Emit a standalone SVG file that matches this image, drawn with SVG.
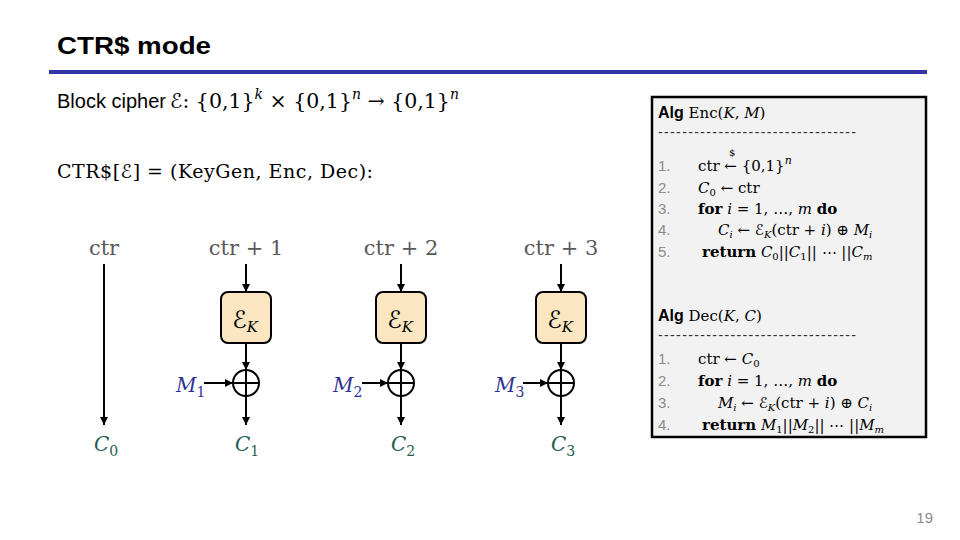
<svg xmlns="http://www.w3.org/2000/svg" width="960" height="540" viewBox="0 0 960 540">
<defs>
<marker id="ah" viewBox="0 0 10 10" refX="10" refY="5" markerWidth="4" markerHeight="4" orient="auto" markerUnits="strokeWidth">
<path d="M0,0 L10,5 L0,10 z" fill="#000"/>
</marker>
<style>
.t{font-family:"Liberation Sans",Arial,sans-serif}
.s{font-family:"DejaVu Serif","Liberation Serif",serif}
.e{font-family:"DejaVu Sans","DejaVu Serif",serif;font-style:normal}
.i{font-style:italic}
.b{font-weight:bold}
.g{fill:#595959}
.m{fill:#2e3192}
.c{fill:#1f5e50}
.n{fill:#8c8c8c;font-family:"Liberation Sans",Arial,sans-serif}
.box{fill:#fce6c1;stroke:#000;stroke-width:2}
.ln{stroke:#000;stroke-width:2;fill:none}
</style>
</defs>
<rect width="960" height="540" fill="#fff"/>
<text x="57" y="54" class="t b" font-size="24" textLength="154" lengthAdjust="spacingAndGlyphs">CTR$ mode</text>
<rect x="49" y="70" width="878" height="4" fill="#3333a8"/>

<text x="57" y="108" class="t" font-size="20">Block cipher</text>
<text x="170" y="108" class="s" font-size="20.5"><tspan class="e">ℰ</tspan>: {0,1}<tspan class="i" font-size="14" dy="-9">k</tspan><tspan dy="9"> × {0,1}</tspan><tspan class="i" font-size="14" dy="-9">n</tspan><tspan dy="9"> → {0,1}</tspan><tspan class="i" font-size="14" dy="-9">n</tspan></text>

<text x="57" y="178" class="s" font-size="19" textLength="316">CTR$[<tspan class="e">ℰ</tspan>] = (KeyGen, Enc, Dec):</text>

<g id="connectors">
<line x1="104" y1="264" x2="104" y2="425" class="ln" marker-end="url(#ah)"/>
<line x1="246" y1="264" x2="246" y2="292" class="ln" marker-end="url(#ah)"/>
<line x1="246" y1="343" x2="246" y2="370" class="ln" marker-end="url(#ah)"/>
<line x1="246" y1="396" x2="246" y2="425" class="ln" marker-end="url(#ah)"/>
<line x1="204" y1="383" x2="233" y2="383" class="ln" marker-end="url(#ah)"/>
<line x1="401" y1="264" x2="401" y2="292" class="ln" marker-end="url(#ah)"/>
<line x1="401" y1="343" x2="401" y2="370" class="ln" marker-end="url(#ah)"/>
<line x1="401" y1="396" x2="401" y2="425" class="ln" marker-end="url(#ah)"/>
<line x1="362" y1="383" x2="388" y2="383" class="ln" marker-end="url(#ah)"/>
<line x1="561" y1="264" x2="561" y2="292" class="ln" marker-end="url(#ah)"/>
<line x1="561" y1="343" x2="561" y2="370" class="ln" marker-end="url(#ah)"/>
<line x1="561" y1="396" x2="561" y2="425" class="ln" marker-end="url(#ah)"/>
<line x1="523" y1="383" x2="548" y2="383" class="ln" marker-end="url(#ah)"/>
</g>

<g id="labels-in">
<text x="104" y="255" class="s g" font-size="21" text-anchor="middle">ctr</text>
<text x="246" y="255" class="s g" font-size="21" text-anchor="middle">ctr + 1</text>
<text x="401" y="255" class="s g" font-size="21" text-anchor="middle">ctr + 2</text>
<text x="561" y="255" class="s g" font-size="21" text-anchor="middle">ctr + 3</text>
</g>

<g id="E1">
<rect x="221" y="292" width="50" height="51" rx="7" class="box"/>
<text x="245" y="328" class="s" font-size="24" text-anchor="middle"><tspan class="e">ℰ</tspan><tspan class="i" font-size="15" dy="4">K</tspan></text>
</g>
<g id="E2">
<rect x="376" y="292" width="50" height="51" rx="7" class="box"/>
<text x="400" y="328" class="s" font-size="24" text-anchor="middle"><tspan class="e">ℰ</tspan><tspan class="i" font-size="15" dy="4">K</tspan></text>
</g>
<g id="E3">
<rect x="536" y="292" width="50" height="51" rx="7" class="box"/>
<text x="560" y="328" class="s" font-size="24" text-anchor="middle"><tspan class="e">ℰ</tspan><tspan class="i" font-size="15" dy="4">K</tspan></text>
</g>

<g id="X1"><circle cx="246" cy="383" r="13" class="ln"/><line x1="233" y1="383" x2="259" y2="383" class="ln"/><line x1="246" y1="370" x2="246" y2="396" class="ln"/></g>
<g id="X2"><circle cx="401" cy="383" r="13" class="ln"/><line x1="388" y1="383" x2="414" y2="383" class="ln"/><line x1="401" y1="370" x2="401" y2="396" class="ln"/></g>
<g id="X3"><circle cx="561" cy="383" r="13" class="ln"/><line x1="548" y1="383" x2="574" y2="383" class="ln"/><line x1="561" y1="370" x2="561" y2="396" class="ln"/></g>

<g id="M">
<text x="176" y="392" class="s i m" font-size="20">M<tspan font-size="14" font-style="normal" dy="5">1</tspan></text>
<text x="333" y="392" class="s i m" font-size="20">M<tspan font-size="14" font-style="normal" dy="5">2</tspan></text>
<text x="495" y="392" class="s i m" font-size="20">M<tspan font-size="14" font-style="normal" dy="5">3</tspan></text>
</g>
<g id="C">
<text x="94" y="451" class="s i c" font-size="20">C<tspan font-size="14" font-style="normal" dy="5">0</tspan></text>
<text x="235" y="451" class="s i c" font-size="20">C<tspan font-size="14" font-style="normal" dy="5">1</tspan></text>
<text x="391" y="451" class="s i c" font-size="20">C<tspan font-size="14" font-style="normal" dy="5">2</tspan></text>
<text x="551" y="451" class="s i c" font-size="20">C<tspan font-size="14" font-style="normal" dy="5">3</tspan></text>
</g>

<g id="alg">
<rect x="652" y="97" width="274" height="340" fill="#f2f2f2" stroke="#000" stroke-width="2.5"/>
<text x="658" y="118" font-size="16"><tspan class="t b">Alg</tspan><tspan class="s" font-size="15"> Enc(</tspan><tspan class="s i" font-size="15">K</tspan><tspan class="s" font-size="15">, </tspan><tspan class="s i" font-size="15">M</tspan><tspan class="s" font-size="15">)</tspan></text>
<text x="658" y="137" class="t" font-size="14" fill="#333" textLength="198">---------------------------------</text>
<g font-size="15" class="n">
<text x="658" y="171">1.</text><text x="658" y="193">2.</text><text x="658" y="214">3.</text><text x="658" y="235">4.</text><text x="658" y="257">5.</text>
</g>
<g class="s" font-size="15">
<text x="698" y="171">ctr ← {0,1}<tspan class="i" font-size="11" dy="-7">n</tspan></text>
<text x="729" y="156" font-size="10">$</text>
<text x="698" y="193"><tspan class="i">C</tspan><tspan font-size="10" dy="3">0</tspan><tspan dy="-3"> ← ctr</tspan></text>
<text x="698" y="214"><tspan class="b">for</tspan> <tspan class="i">i</tspan> = 1, …, <tspan class="i">m</tspan> <tspan class="b">do</tspan></text>
<text x="718" y="235"><tspan class="i">C</tspan><tspan class="i" font-size="10" dy="3">i</tspan><tspan dy="-3"> ← </tspan><tspan class="e">ℰ</tspan><tspan class="i" font-size="10" dy="3">K</tspan><tspan dy="-3">(ctr + </tspan><tspan class="i">i</tspan>) ⊕ <tspan class="i">M</tspan><tspan class="i" font-size="10" dy="3">i</tspan></text>
<text x="702" y="257"><tspan class="b">return</tspan> <tspan class="i">C</tspan><tspan font-size="10" dy="3">0</tspan><tspan dy="-3">||</tspan><tspan class="i">C</tspan><tspan font-size="10" dy="3">1</tspan><tspan dy="-3">|| ⋯ ||</tspan><tspan class="i">C</tspan><tspan class="i" font-size="10" dy="3">m</tspan></text>
</g>

<text x="658" y="321" font-size="16"><tspan class="t b">Alg</tspan><tspan class="s" font-size="15"> Dec(</tspan><tspan class="s i" font-size="15">K</tspan><tspan class="s" font-size="15">, </tspan><tspan class="s i" font-size="15">C</tspan><tspan class="s" font-size="15">)</tspan></text>
<text x="658" y="340" class="t" font-size="14" fill="#333" textLength="198">---------------------------------</text>
<g font-size="15" class="n">
<text x="658" y="364">1.</text><text x="658" y="386">2.</text><text x="658" y="408">3.</text><text x="658" y="430">4.</text>
</g>
<g class="s" font-size="15">
<text x="698" y="364">ctr ← <tspan class="i">C</tspan><tspan font-size="10" dy="3">0</tspan></text>
<text x="698" y="386"><tspan class="b">for</tspan> <tspan class="i">i</tspan> = 1, …, <tspan class="i">m</tspan> <tspan class="b">do</tspan></text>
<text x="718" y="408"><tspan class="i">M</tspan><tspan class="i" font-size="10" dy="3">i</tspan><tspan dy="-3"> ← </tspan><tspan class="e">ℰ</tspan><tspan class="i" font-size="10" dy="3">K</tspan><tspan dy="-3">(ctr + </tspan><tspan class="i">i</tspan>) ⊕ <tspan class="i">C</tspan><tspan class="i" font-size="10" dy="3">i</tspan></text>
<text x="702" y="430"><tspan class="b">return</tspan> <tspan class="i">M</tspan><tspan font-size="10" dy="3">1</tspan><tspan dy="-3">||</tspan><tspan class="i">M</tspan><tspan font-size="10" dy="3">2</tspan><tspan dy="-3">|| ⋯ ||</tspan><tspan class="i">M</tspan><tspan class="i" font-size="10" dy="3">m</tspan></text>
</g>
</g>

<text x="933" y="523" class="n" font-size="15" text-anchor="end">19</text>
</svg>
